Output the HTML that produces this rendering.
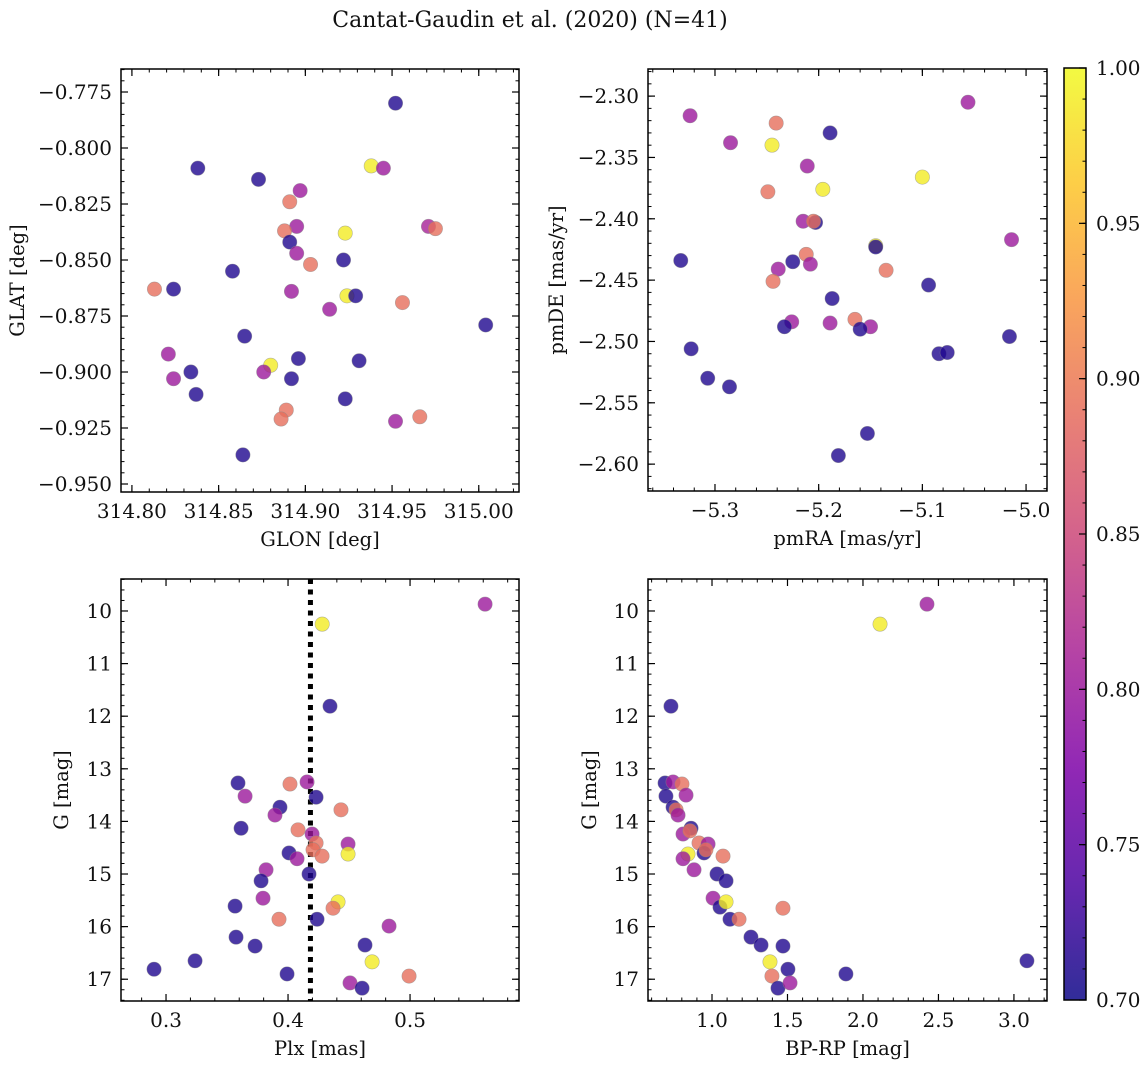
<!DOCTYPE html>
<html><head><meta charset="utf-8">
<style>
html,body{margin:0;padding:0;background:#fff;}
svg text{font-family:"DejaVu Serif","Liberation Serif",serif;fill:#111;}
</style></head>
<body>
<svg id="fig" width="1148" height="1068" viewBox="0 0 1148 1068" xmlns="http://www.w3.org/2000/svg">
<defs>
<linearGradient id="plasma" x1="0" y1="1" x2="0" y2="0">
<stop offset="0" stop-color="#0d0887"/><stop offset="0.125" stop-color="#4c02a1"/><stop offset="0.25" stop-color="#7e03a8"/><stop offset="0.375" stop-color="#a92395"/><stop offset="0.5" stop-color="#cc4778"/><stop offset="0.625" stop-color="#e56b5d"/><stop offset="0.75" stop-color="#f89540"/><stop offset="0.875" stop-color="#fdc527"/><stop offset="1" stop-color="#f0f921"/>
</linearGradient>
</defs>
<text x="530" y="27" text-anchor="middle" font-size="22">Cantat-Gaudin et al. (2020) (N=41)</text>
</svg>
<script>
// ---- Panel 1: GLON vs GLAT ----
const p1Glon = [314.952,314.938,314.945,314.838,314.873,314.897,314.891,314.895,314.888,314.971,314.975,314.923,314.891,314.895,314.903,314.922,314.858,314.813,314.824,314.924,314.929,314.956,314.892,314.914,315.004,314.865,314.821,314.880,314.896,314.931,314.834,314.824,314.876,314.892,314.837,314.923,314.889,314.952,314.966,314.886,314.864];
const p1Glat = [-0.780,-0.808,-0.809,-0.809,-0.814,-0.819,-0.824,-0.835,-0.837,-0.835,-0.836,-0.838,-0.842,-0.847,-0.852,-0.850,-0.855,-0.863,-0.863,-0.866,-0.866,-0.869,-0.864,-0.872,-0.879,-0.884,-0.892,-0.897,-0.894,-0.895,-0.900,-0.903,-0.900,-0.903,-0.910,-0.912,-0.917,-0.922,-0.920,-0.921,-0.937];
const p1Prob = [0.71,0.99,0.80,0.71,0.71,0.80,0.89,0.80,0.89,0.81,0.89,0.99,0.71,0.80,0.89,0.71,0.71,0.89,0.71,0.99,0.71,0.89,0.80,0.80,0.71,0.71,0.80,0.99,0.71,0.71,0.71,0.80,0.80,0.71,0.71,0.71,0.89,0.80,0.89,0.89,0.71];
const p1XTicks = [314.80,314.85,314.90,314.95,315.00];
const p1XTickLabels = ["314.80","314.85","314.90","314.95","315.00"];
const p1YTicks = [-0.775,-0.800,-0.825,-0.850,-0.875,-0.900,-0.925,-0.950];
const p1YTickLabels = ["−0.775","−0.800","−0.825","−0.850","−0.875","−0.900","−0.925","−0.950"];

// ---- Panel 2: pmRA vs pmDE ----
const p2PmRA = [-5.056,-5.324,-5.241,-5.189,-5.285,-5.245,-5.211,-5.100,-5.249,-5.196,-5.215,-5.203,-5.205,-5.014,-5.145,-5.145,-5.212,-5.333,-5.225,-5.239,-5.208,-5.135,-5.244,-5.187,-5.094,-5.165,-5.226,-5.189,-5.150,-5.233,-5.160,-5.016,-5.323,-5.084,-5.076,-5.307,-5.286,-5.153,-5.181];
const p2PmDE = [-2.305,-2.316,-2.322,-2.330,-2.338,-2.340,-2.357,-2.366,-2.378,-2.376,-2.402,-2.403,-2.402,-2.417,-2.422,-2.423,-2.429,-2.434,-2.435,-2.441,-2.437,-2.442,-2.451,-2.465,-2.454,-2.482,-2.484,-2.485,-2.488,-2.488,-2.490,-2.496,-2.506,-2.510,-2.509,-2.530,-2.537,-2.575,-2.593];
const p2Prob = [0.80,0.80,0.89,0.71,0.80,0.99,0.80,0.99,0.89,0.99,0.80,0.71,0.89,0.80,0.99,0.71,0.89,0.71,0.71,0.80,0.80,0.89,0.89,0.71,0.71,0.89,0.80,0.80,0.80,0.71,0.71,0.71,0.71,0.71,0.71,0.71,0.71,0.71,0.71];
const p2XTicks = [-5.3,-5.2,-5.1,-5.0];
const p2XTickLabels = ["−5.3","−5.2","−5.1","−5.0"];
const p2YTicks = [-2.30,-2.35,-2.40,-2.45,-2.50,-2.55,-2.60];
const p2YTickLabels = ["−2.30","−2.35","−2.40","−2.45","−2.50","−2.55","−2.60"];

// ---- Panel 3: Plx vs G ----
const p3Plx = [0.5615,0.428,0.4344,0.359,0.4016,0.4156,0.3648,0.423,0.3934,0.4434,0.3893,0.3615,0.4082,0.4197,0.423,0.4492,0.4205,0.4279,0.4492,0.4008,0.4074,0.382,0.4172,0.3779,0.3795,0.441,0.4369,0.3566,0.3926,0.4238,0.4828,0.3574,0.373,0.4631,0.4689,0.3238,0.2902,0.3992,0.4992,0.4508,0.4607];
const p3G = [9.87,10.25,11.81,13.27,13.29,13.25,13.52,13.54,13.73,13.78,13.88,14.13,14.16,14.24,14.41,14.43,14.54,14.66,14.62,14.60,14.71,14.92,15.00,15.13,15.46,15.53,15.65,15.61,15.86,15.86,15.99,16.20,16.37,16.35,16.67,16.65,16.81,16.90,16.94,17.07,17.17];
const p3Prob = [0.80,0.99,0.71,0.71,0.89,0.80,0.80,0.71,0.71,0.89,0.80,0.71,0.89,0.80,0.89,0.80,0.89,0.89,0.99,0.71,0.80,0.80,0.71,0.71,0.80,0.99,0.89,0.71,0.89,0.71,0.80,0.71,0.71,0.71,0.99,0.71,0.71,0.71,0.89,0.80,0.71];
const p3MeanPlx = 0.42;
const p3XTicks = [0.3,0.4,0.5];
const p3XTickLabels = ["0.3","0.4","0.5"];
const gTicks = [10,11,12,13,14,15,16,17];
const gTickLabels = ["10","11","12","13","14","15","16","17"];

// ---- Panel 4: BP-RP vs G ----
const p4BpRp = [0.728,0.689,0.742,0.801,0.695,0.828,0.742,0.762,0.775,0.861,0.808,0.854,0.914,0.974,0.947,0.960,0.841,0.808,1.073,0.881,1.033,1.093,1.007,1.053,1.093,1.119,1.179,1.470,1.258,1.325,1.470,1.384,1.503,1.397,1.437,1.517,2.424,2.113,1.887,3.086];
const p4G = [11.81,13.27,13.25,13.29,13.52,13.50,13.73,13.78,13.88,14.13,14.24,14.18,14.41,14.43,14.60,14.54,14.62,14.71,14.66,14.92,15.00,15.13,15.46,15.63,15.53,15.86,15.86,15.65,16.20,16.35,16.37,16.67,16.81,16.94,17.17,17.07,9.87,10.25,16.90,16.65];
const p4Prob = [0.71,0.71,0.80,0.89,0.71,0.80,0.71,0.89,0.80,0.71,0.80,0.89,0.89,0.80,0.71,0.89,0.99,0.80,0.89,0.80,0.71,0.71,0.80,0.71,0.99,0.71,0.89,0.89,0.71,0.71,0.71,0.99,0.71,0.89,0.71,0.80,0.80,0.99,0.71,0.71];
const p4XTicks = [1.0,1.5,2.0,2.5,3.0];
const p4XTickLabels = ["1.0","1.5","2.0","2.5","3.0"];

// ---- Colorbar ----
const cbTicks = [0.70,0.75,0.80,0.85,0.90,0.95,1.00];
const cbTickLabels = ["0.70","0.75","0.80","0.85","0.90","0.95","1.00"];

const TICK_FS = 20, LABEL_FS = 19.5;
const NS = "http://www.w3.org/2000/svg";
const svg = document.getElementById('fig');
function mk(tag, attrs, parent){ const e=document.createElementNS(NS,tag); for(const k in attrs) e.setAttribute(k,attrs[k]); (parent||svg).appendChild(e); return e; }

const stops=[[0,[13,8,135]],[0.125,[76,2,161]],[0.25,[126,3,168]],[0.375,[169,35,149]],[0.5,[204,71,120]],[0.625,[229,107,93]],[0.75,[248,149,64]],[0.875,[253,197,39]],[1,[240,249,33]]];
function plasma(p){ let t=Math.max(0,Math.min(1,(p-0.7)/0.3)); for(let i=0;i<stops.length-1;i++){ const a=stops[i],b=stops[i+1]; if(t<=b[0]){ const f=(t-a[0])/(b[0]-a[0]); const c=a[1].map((v,j)=>Math.round(v+(b[1][j]-v)*f)); return `rgb(${c.join(',')})`; } } return 'rgb(240,249,33)'; }

function panel(cfg){
  const {name,x0,x1,y0,y1,xmin,xmax,ymin,ymax}=cfg;
  const sx=v=>x0+(v-xmin)/(xmax-xmin)*(x1-x0);
  const sy=v=>y0+(v-ymin)/(ymax-ymin)*(y1-y0);
  const g=mk('g',{});
  
  
  const cid='clip-'+name;
  const cp=mk('clipPath',{id:cid},g); mk('rect',{x:x0,y:y0,width:x1-x0,height:y1-y0},cp);
  const pts=mk('g',{'clip-path':`url(#${cid})`},g);
  if(cfg.vline!==undefined){
    const l=mk('line',{x1:sx(cfg.vline)-2,x2:sx(cfg.vline)-2,y1:y0,y2:y1,stroke:'#000','stroke-width':5,'stroke-dasharray':'5,5.5'},pts);
    
    
  }
  for(let i=0;i<cfg.xs.length;i++){
    const c=mk('circle',{cx:sx(cfg.xs[i]),cy:sy(cfg.ys[i]),r:7.2,fill:plasma(cfg.ps[i]),'fill-opacity':0.8,stroke:'#888','stroke-opacity':0.6,'stroke-width':0.6},pts);
    
    
  }
  const xm=cfg.xminor, ym=cfg.yminor;
  for(let v=Math.ceil(Math.min(xmin,xmax)/xm-1e-6)*xm; v<=Math.max(xmin,xmax)+1e-9; v+=xm){
    const X=sx(v); mk('line',{x1:X,x2:X,y1:y1,y2:y1-3.5,stroke:'#000','stroke-width':1},g); mk('line',{x1:X,x2:X,y1:y0,y2:y0+3.5,stroke:'#000','stroke-width':1},g);
  }
  for(let v=Math.ceil(Math.min(ymin,ymax)/ym-1e-6)*ym; v<=Math.max(ymin,ymax)+1e-9; v+=ym){
    const Y=sy(v); mk('line',{x1:x0,x2:x0+3.5,y1:Y,y2:Y,stroke:'#000','stroke-width':1},g); mk('line',{x1:x1,x2:x1-3.5,y1:Y,y2:Y,stroke:'#000','stroke-width':1},g);
  }
  cfg.xt.forEach((v,i)=>{ const X=sx(v);
    mk('line',{x1:X,x2:X,y1:y1,y2:y1-7,stroke:'#000','stroke-width':1.2},g); mk('line',{x1:X,x2:X,y1:y0,y2:y0+7,stroke:'#000','stroke-width':1.2},g);
    const t=mk('text',{x:X,y:y1+26,'text-anchor':'middle','font-size':TICK_FS},g); t.textContent=cfg.xl[i];
    
    
  });
  cfg.yt.forEach((v,i)=>{ const Y=sy(v);
    mk('line',{x1:x0,x2:x0+7,y1:Y,y2:Y,stroke:'#000','stroke-width':1.2},g); mk('line',{x1:x1,x2:x1-7,y1:Y,y2:Y,stroke:'#000','stroke-width':1.2},g);
    const t=mk('text',{x:x0-9,y:Y+7,'text-anchor':'end','font-size':TICK_FS},g); t.textContent=cfg.yl[i];
    
    
  });
  mk('rect',{x:x0,y:y0,width:x1-x0,height:y1-y0,fill:'none',stroke:'#000','stroke-width':1.5},g);
  const xt=mk('text',{x:(x0+x1)/2,y:y1+54,'text-anchor':'middle','font-size':LABEL_FS},g); xt.textContent=cfg.xlabel;
  
  
  const yt=mk('text',{x:cfg.ylx,y:(y0+y1)/2,'text-anchor':'middle','font-size':LABEL_FS,transform:`rotate(-90 ${cfg.ylx} ${(y0+y1)/2})`},g); yt.textContent=cfg.ylabel;
  
  
}

panel({name:'panel-glon-glat',x0:121,x1:519,y0:69,y1:492,xmin:314.7937,xmax:315.0232,ymin:-0.76473,ymax:-0.95357,xs:p1Glon,ys:p1Glat,ps:p1Prob,xt:p1XTicks,xl:p1XTickLabels,yt:p1YTicks,yl:p1YTickLabels,xminor:0.01,yminor:0.005,xlabel:'GLON [deg]',ylabel:'GLAT [deg]',ylx:24});
panel({name:'panel-pmra-pmde',x0:648,x1:1047,y0:69,y1:491,xmin:-5.3646,xmax:-4.9798,ymin:-2.2779,ymax:-2.6219,xs:p2PmRA,ys:p2PmDE,ps:p2Prob,xt:p2XTicks,xl:p2XTickLabels,yt:p2YTicks,yl:p2YTickLabels,xminor:0.02,yminor:0.01,xlabel:'pmRA [mas/yr]',ylabel:'pmDE [mas/yr]',ylx:563});
panel({name:'panel-plx-g',x0:121,x1:519,y0:579,y1:1001,xmin:0.2631,xmax:0.5893,ymin:9.392,ymax:17.414,xs:p3Plx,ys:p3G,ps:p3Prob,xt:p3XTicks,xl:p3XTickLabels,yt:gTicks,yl:gTickLabels,xminor:0.02,yminor:0.2,xlabel:'Plx [mas]',ylabel:'G [mag]',ylx:68,vline:p3MeanPlx});
panel({name:'panel-bprp-g',x0:648,x1:1047,y0:579,y1:1001,xmin:0.576,xmax:3.219,ymin:9.392,ymax:17.414,xs:p4BpRp,ys:p4G,ps:p4Prob,xt:p4XTicks,xl:p4XTickLabels,yt:gTicks,yl:gTickLabels,xminor:0.1,yminor:0.2,xlabel:'BP-RP [mag]',ylabel:'G [mag]',ylx:596});

(function(){
  const x0=1064,x1=1086,y0=68,y1=1000;
  const sy=v=>y1-(v-0.7)/0.3*(y1-y0);
  const g=mk('g',{});
  
  
  mk('rect',{x:x0,y:y0,width:x1-x0,height:y1-y0,fill:'url(#plasma)','fill-opacity':0.85},g);
  for(let v=0.70; v<=1.0001; v+=0.01){ const Y=sy(v); mk('line',{x1:x1,x2:x1-3.5,y1:Y,y2:Y,stroke:'#000','stroke-width':1},g); }
  cbTicks.forEach((v,i)=>{ const Y=sy(v);
    mk('line',{x1:x1,x2:x1-7,y1:Y,y2:Y,stroke:'#000','stroke-width':1.2},g);
    const t=mk('text',{x:x1+10,y:Y+7,'font-size':TICK_FS},g); t.textContent=cbTickLabels[i];
    
    
  });
  mk('rect',{x:x0,y:y0,width:x1-x0,height:y1-y0,fill:'none',stroke:'#000','stroke-width':1.5},g);
})();
</script>
</body></html>
